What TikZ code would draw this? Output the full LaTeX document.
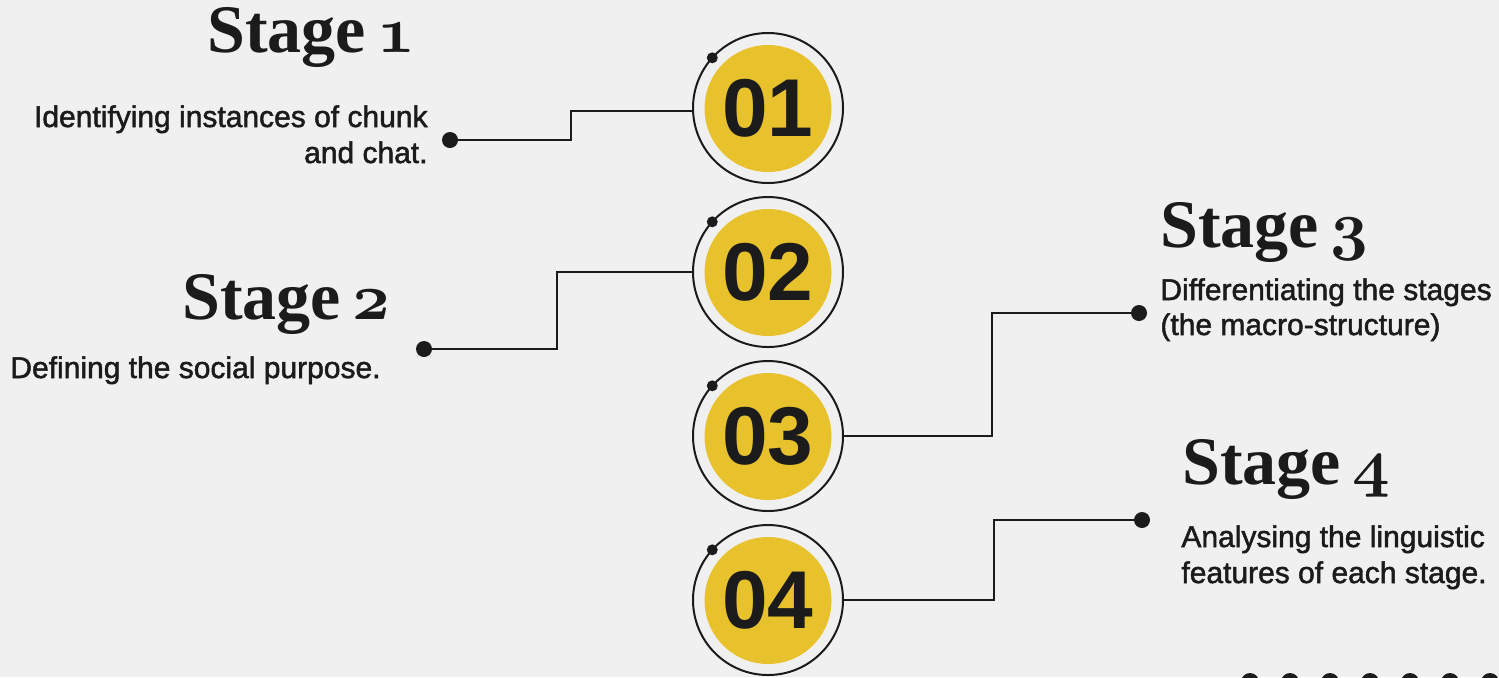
\documentclass[tikz,border=0pt]{standalone}
\usepackage{fontspec}
\usepackage{graphicx}
\usetikzlibrary{calc}
\setmainfont{Liberation Sans}
\newfontfamily\titlefont{Liberation Serif}
\newfontface\descfont{Liberation Sans}[FakeBold=1.6]
\definecolor{bg}{HTML}{F0F0F0}
\definecolor{ink}{HTML}{1B1B1B}
\definecolor{gold}{HTML}{E8C22D}
\newcommand{\osdigit}[1]{\scalebox{1.32}{\fontsize{24.88}{26}\usefont{OML}{cmm}{b}{it}#1}}
\tikzset{
  desc/.style={inner sep=0pt, text=ink, font=\descfont\fontsize{15}{18}\selectfont},
  stagetitle/.style={inner sep=0pt, text=ink, anchor=base west, font=\titlefont\bfseries\fontsize{34}{40}\selectfont},
  ring/.style={circle, draw=ink, line width=1pt, minimum size=75pt, inner sep=0pt},
  disc/.style={circle, fill=gold, minimum size=63.5pt, inner sep=0pt, text=ink, font=\bfseries\fontsize{41}{44}\selectfont},
  link/.style={draw=ink, line width=1.1pt},
  enddot/.style={circle, fill=ink, minimum size=8pt, inner sep=0pt},
  ringdot/.style={circle, fill=ink, minimum size=5.5pt, inner sep=0pt},
  footdot/.style={circle, fill=ink, minimum size=9pt, inner sep=0pt}
}
\begin{document}
\begin{tikzpicture}[x=0.5pt, y=-0.5pt]
\useasboundingbox (0,0) rectangle (1499,677);
\fill[bg] (0,0) rectangle (1499,677);
\clip (0,0) rectangle (1499,677);

% circles
\foreach \n/\y in {1/108, 2/272, 3/436, 4/600}{
  \node[ring] (r\n) at (768,\y) {};
  \node[disc] (c\n) at (768,\y+0.5) {0\n};
  \node[ringdot] (rd\n) at ($(r\n.center)+(138:37.5pt)$) {};
}

% end dots
\node[enddot] (e1) at (450,140) {};
\node[enddot] (e2) at (424,349) {};
\node[enddot] (e3) at (1139,313) {};
\node[enddot] (e4) at (1142,520) {};

% connectors
\draw[link] (e1.center) -- (571,140) -- (571,111) -- (r1.west |- 0,111);
\draw[link] (e2.center) -- (557,349) -- (557,272) -- (r2.west);
\draw[link] (r3.east) -- (992,436) -- (992,313) -- (e3.center);
\draw[link] (r4.east) -- (994,600) -- (994,520) -- (e4.center);

% titles
\node[stagetitle] (t1) at (207,52) {Stage\,\osdigit{1}};
\node[stagetitle] (t2) at (182,319) {Stage\,\osdigit{2}};
\node[stagetitle] (t3) at (1160,247) {Stage\,\osdigit{3}};
\node[stagetitle] (t4) at (1182,484) {Stage\,\osdigit{4}};

% descriptions
\node[desc, anchor=base east] (d1a) at (428,127) {Identifying instances of chunk};
\node[desc, anchor=base east] (d1b) at (428,163) {and chat.};
\node[desc, anchor=base west] (d2) at (10,378) {Defining the social purpose.};
\node[desc, anchor=base west] (d3a) at (1160,300) {Differentiating the stages};
\node[desc, anchor=base west] (d3b) at (1160,335) {(the macro-structure)};
\node[desc, anchor=base west] (d4a) at (1181,547) {Analysing the linguistic};
\node[desc, anchor=base west] (d4b) at (1181,583) {features of each stage.};

% footer dots
\foreach \i in {0,...,6}{
  \node[footdot] (f\i) at (1250+40*\i,682) {};
}
\end{tikzpicture}
\end{document}
